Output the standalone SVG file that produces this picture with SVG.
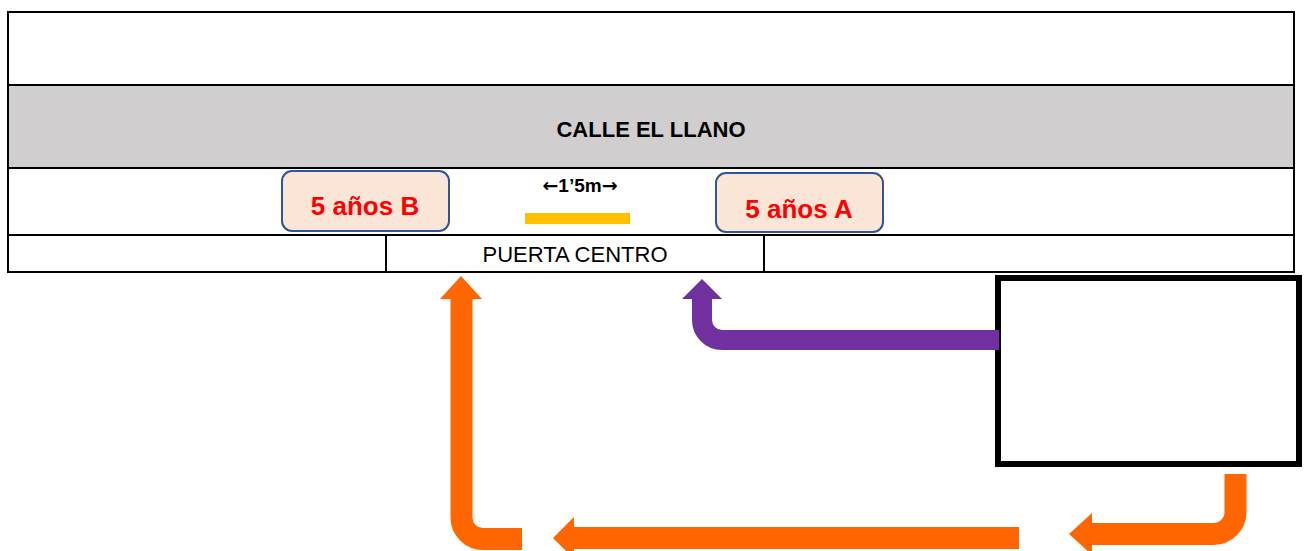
<svg xmlns="http://www.w3.org/2000/svg" width="1306" height="551" viewBox="0 0 1306 551">
<style>
.ln{stroke:#000;stroke-width:2;fill:none}
.grp{fill:#FBE5D6;stroke:#2F5597;stroke-width:2}
.grpt{font-family:"Liberation Sans",Arial,sans-serif;font-weight:bold;font-size:26px;fill:#FF0000;text-anchor:middle}
.or{stroke:#FF6600;stroke-width:22;fill:none}
.orh{fill:#FF6600}
.pu{stroke:#7030A0;stroke-width:20;fill:none}
.puh{fill:#7030A0}
.arw{font-family:"DejaVu Sans",sans-serif}
</style>
<rect width="1306" height="551" fill="#fff"/>
<g id="street">
<rect x="8" y="85" width="1286" height="83" fill="#D0CECE"/>
<rect x="8" y="12" width="1286" height="260" class="ln"/>
<line x1="8" y1="85" x2="1294" y2="85" class="ln"/>
<line x1="8" y1="168" x2="1294" y2="168" class="ln"/>
<line x1="8" y1="235" x2="1294" y2="235" class="ln"/>
<line x1="386" y1="235" x2="386" y2="272" class="ln"/>
<line x1="764" y1="235" x2="764" y2="272" class="ln"/>
<text x="651" y="137" font-family="Liberation Sans,Arial,sans-serif" font-weight="bold" font-size="22" text-anchor="middle">CALLE EL LLANO</text>
<text x="575" y="262" font-family="Liberation Sans,Arial,sans-serif" font-size="22" text-anchor="middle">PUERTA CENTRO</text>
</g>
<g id="grupoB">
<rect x="282" y="171" width="167" height="60" rx="10" class="grp"/>
<text x="365" y="215" class="grpt">5 años B</text>
</g>
<g id="grupoA">
<rect x="716" y="173" width="167" height="59" rx="10" class="grp"/>
<text x="799" y="218" class="grpt">5 años A</text>
</g>
<g id="distancia">
<text x="580" y="192" font-family="Liberation Sans,DejaVu Sans,sans-serif" font-weight="bold" font-size="19" text-anchor="middle"><tspan class="arw">←</tspan>1’5m<tspan class="arw">→</tspan></text>
<rect x="525" y="213" width="105" height="11" fill="#FFC000"/>
</g>
<g id="caja">
<rect x="998" y="278" width="301" height="186" fill="#fff" stroke="#000" stroke-width="6"/>
</g>
<g id="connectors">
<path class="pu" d="M999,340 H722 A20,20 0 0 1 702,320 V297"/>
<polygon class="puh" points="702,279 722,299 682,299"/>
<path class="or" d="M522,539 H483 A21.5,21.5 0 0 1 461.5,517.5 V297"/>
<polygon class="orh" points="461,276 482,299 440,299"/>
<path class="or" d="M1019,538 H572"/>
<polygon class="orh" points="553,538 574,517 574,559"/>
<path class="or" d="M1235.5,474 V512 A22,22 0 0 1 1213.5,534 H1090"/>
<polygon class="orh" points="1069,534 1092,513 1092,555"/>
</g>
</svg>
